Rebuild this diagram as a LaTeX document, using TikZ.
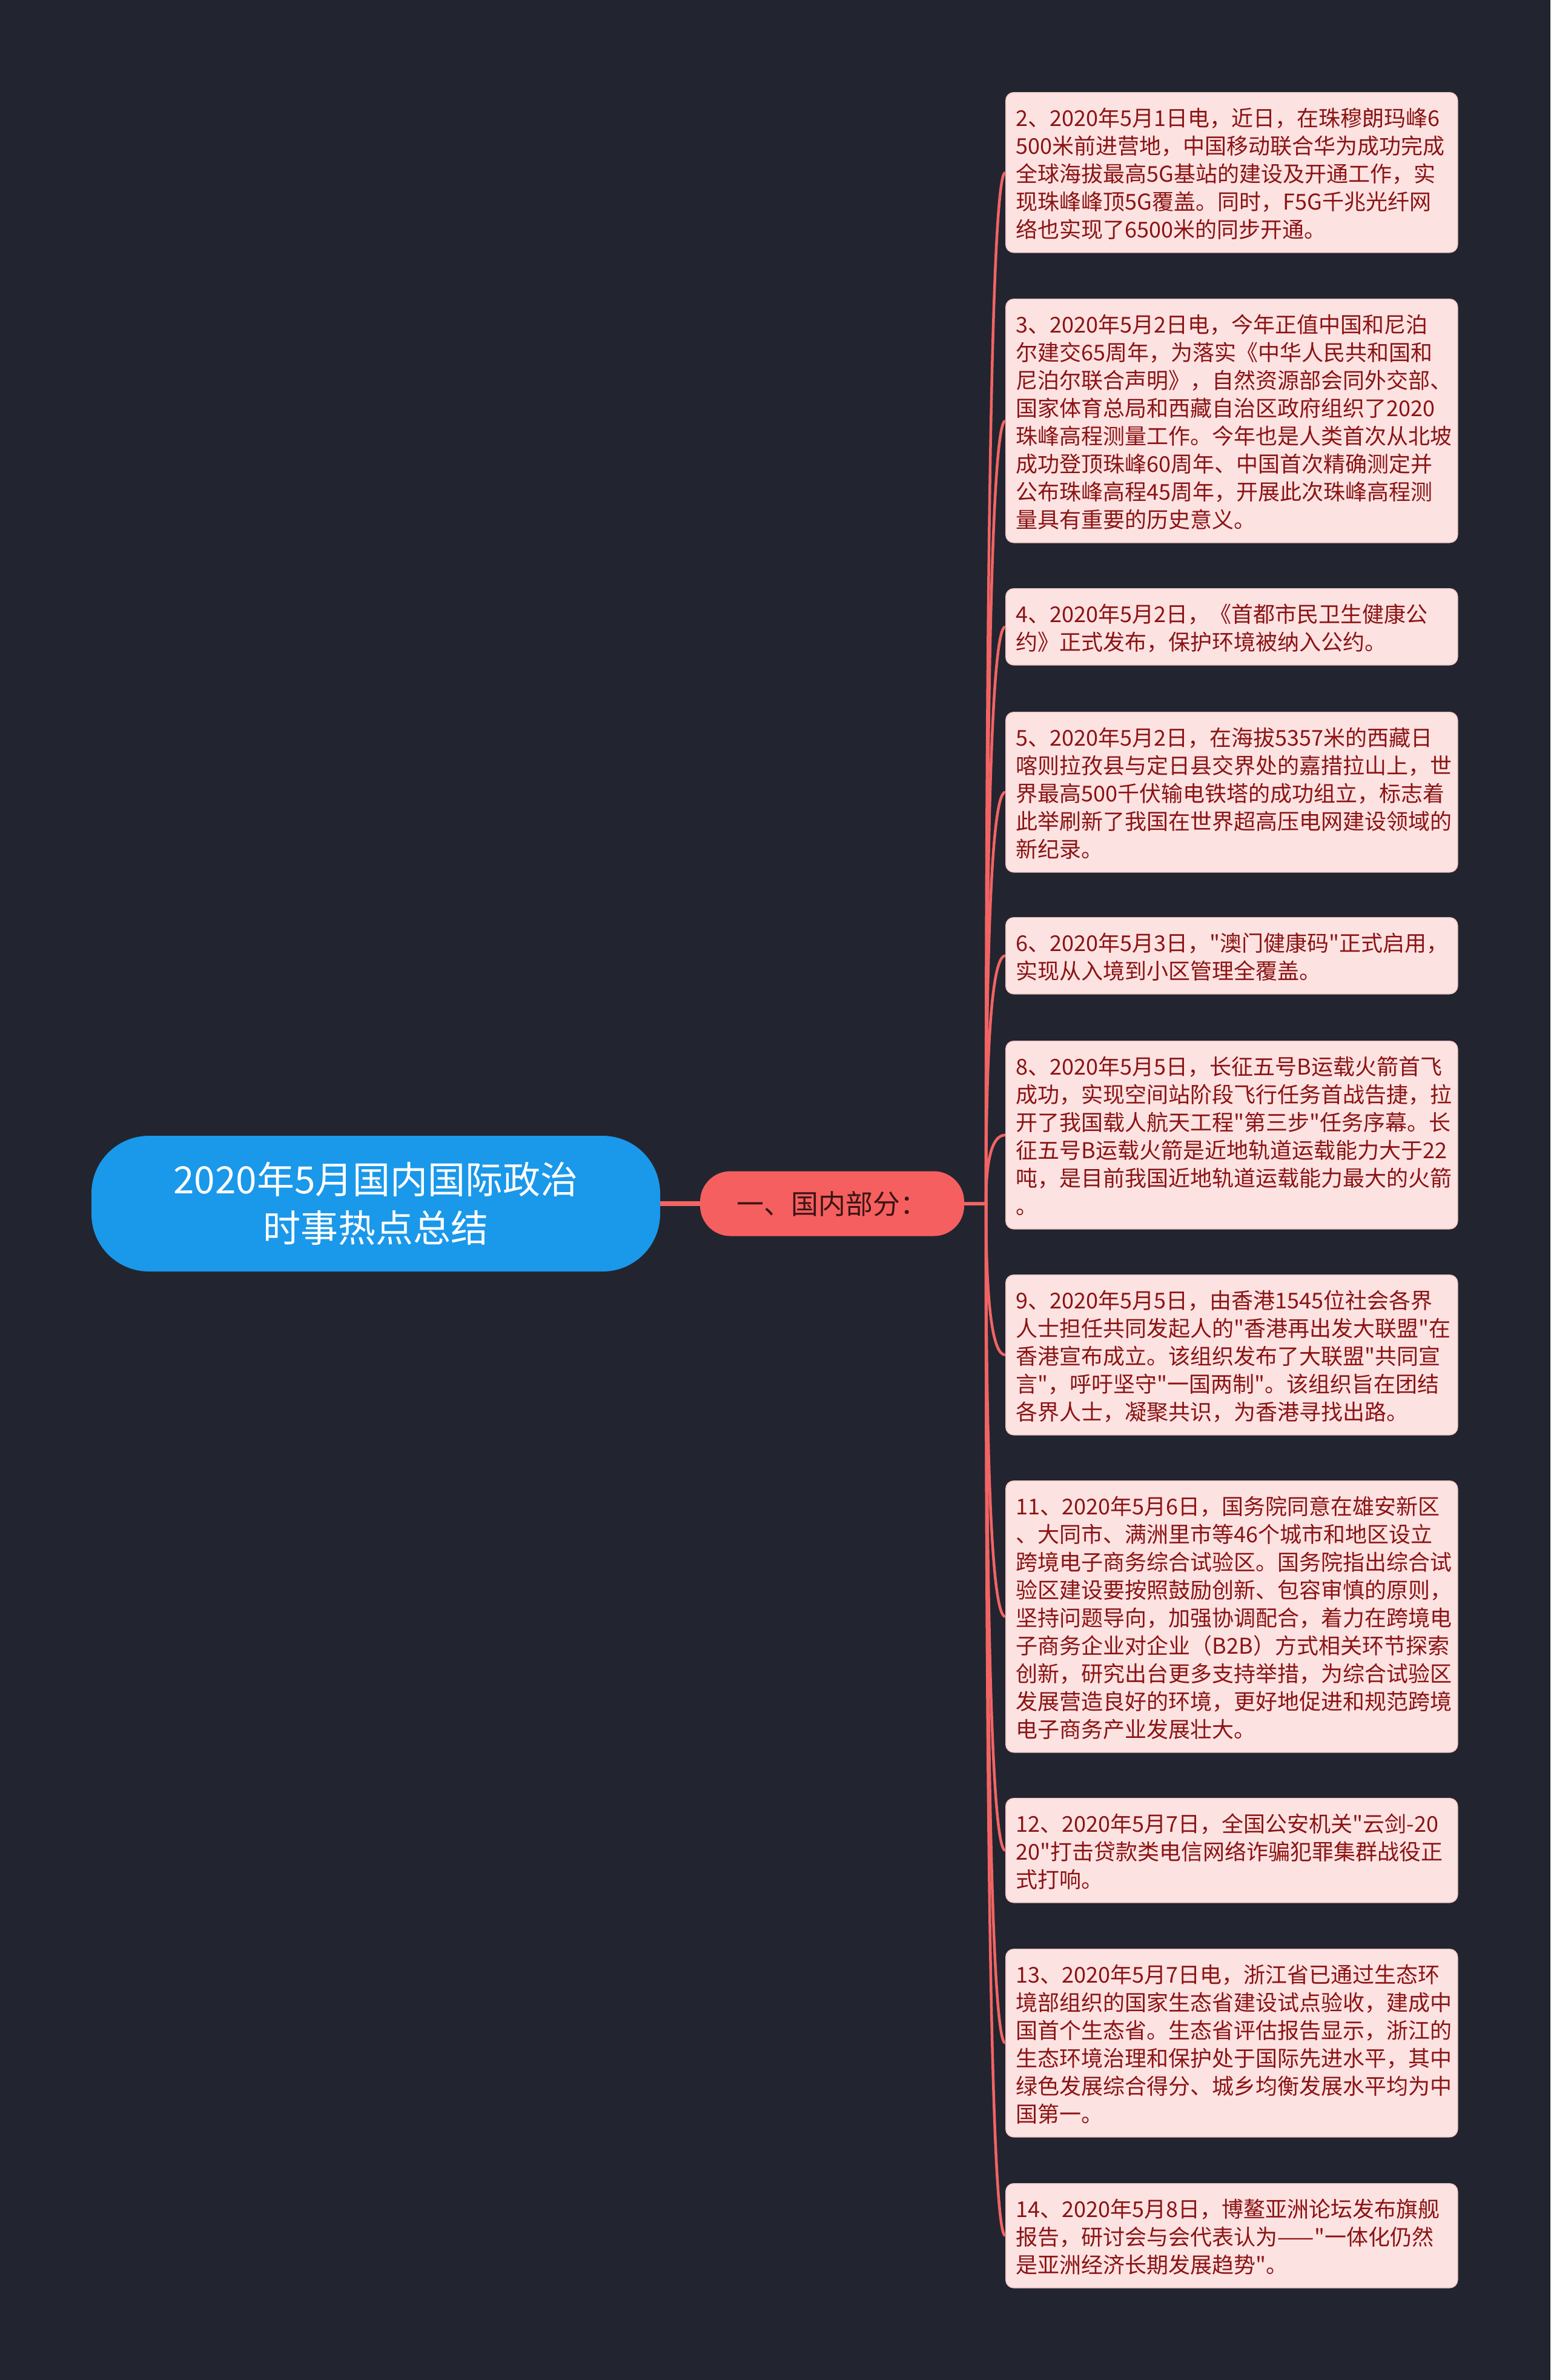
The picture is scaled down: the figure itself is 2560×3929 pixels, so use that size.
\documentclass[tikz,border=0pt]{standalone}
\usepackage{fontspec}
\newfontfamily\cjk{Noto Sans CJK SC}
\usetikzlibrary{calc}
\definecolor{bgc}{HTML}{22252F}
\definecolor{rootfill}{HTML}{1A98EA}
\definecolor{subfill}{HTML}{F65F5F}
\definecolor{subtext}{HTML}{3A1414}
\definecolor{leaffill}{HTML}{FDE2E2}
\definecolor{leafedge}{HTML}{F3CACA}
\definecolor{leaftext}{HTML}{8B1414}
\definecolor{linec}{HTML}{F26464}
\newcommand\Ls{\rule[-7pt]{0pt}{46pt}}
\newcommand\Lb{\\\Ls}
\tikzset{
  rootbox/.style={fill=rootfill, rounded corners=95pt, minimum width=939pt, minimum height=224pt, inner sep=0pt, align=center, text=white, font=\cjk\fontsize{62pt}{80pt}\selectfont},
  subbox/.style={fill=subfill, rounded corners=50pt, minimum width=436pt, minimum height=107pt, inner sep=0pt, text=subtext, font=\cjk\fontsize{45pt}{54pt}\selectfont},
  leafbox/.style={draw=leafedge, line width=1.5pt, fill=leaffill, rounded corners=13pt, text width=712pt, inner xsep=17pt, inner ysep=17pt, align=left, anchor=north west, text=leaftext, font=\cjk\fontsize{36pt}{46pt}\selectfont, execute at begin node=\Ls},
  rootline/.style={draw=linec, line width=8pt},
  leafline/.style={draw=linec, line width=4.5pt},
}
\begin{document}
\begin{tikzpicture}[x=1pt,y=-1pt]
\fill[bgc] (0,0) rectangle (2560,3929);
\useasboundingbox (0,0) rectangle (2560,3929);

\node[rootbox] (root) at (620.5,1987) {2020年5月国内国际政治\\时事热点总结};
\node[subbox] (sub) at (1374,1987) {一、国内部分：};

\node[leafbox] (L1) at (1660,152) {2、2020年5月1日电，近日，在珠穆朗玛峰6\Lb 500米前进营地，中国移动联合华为成功完成\Lb 全球海拔最高5G基站的建设及开通工作，实\Lb 现珠峰峰顶5G覆盖。同时，F5G千兆光纤网\Lb 络也实现了6500米的同步开通。};
\node[leafbox] (L2) at (1660,493) {3、2020年5月2日电，今年正值中国和尼泊\Lb 尔建交65周年，为落实《中华人民共和国和\Lb 尼泊尔联合声明》，自然资源部会同外交部、\Lb 国家体育总局和西藏自治区政府组织了2020\Lb 珠峰高程测量工作。今年也是人类首次从北坡\Lb 成功登顶珠峰60周年、中国首次精确测定并\Lb 公布珠峰高程45周年，开展此次珠峰高程测\Lb 量具有重要的历史意义。};
\node[leafbox] (L3) at (1660,971) {4、2020年5月2日，《首都市民卫生健康公\Lb 约》正式发布，保护环境被纳入公约。};
\node[leafbox] (L4) at (1660,1175) {5、2020年5月2日，在海拔5357米的西藏日\Lb 喀则拉孜县与定日县交界处的嘉措拉山上，世\Lb 界最高500千伏输电铁塔的成功组立，标志着\Lb 此举刷新了我国在世界超高压电网建设领域的\Lb 新纪录。};
\node[leafbox] (L5) at (1660,1514) {6、2020年5月3日，"澳门健康码"正式启用，\Lb 实现从入境到小区管理全覆盖。};
\node[leafbox] (L6) at (1660,1718) {8、2020年5月5日，长征五号B运载火箭首飞\Lb 成功，实现空间站阶段飞行任务首战告捷，拉\Lb 开了我国载人航天工程"第三步"任务序幕。长\Lb 征五号B运载火箭是近地轨道运载能力大于22\Lb 吨，是目前我国近地轨道运载能力最大的火箭\Lb 。};
\node[leafbox] (L7) at (1660,2104) {9、2020年5月5日，由香港1545位社会各界\Lb 人士担任共同发起人的"香港再出发大联盟"在\Lb 香港宣布成立。该组织发布了大联盟"共同宣\Lb 言"，呼吁坚守"一国两制"。该组织旨在团结\Lb 各界人士，凝聚共识，为香港寻找出路。};
\node[leafbox] (L8) at (1660,2444) {11、2020年5月6日，国务院同意在雄安新区\Lb 、大同市、满洲里市等46个城市和地区设立\Lb 跨境电子商务综合试验区。国务院指出综合试\Lb 验区建设要按照鼓励创新、包容审慎的原则，\Lb 坚持问题导向，加强协调配合，着力在跨境电\Lb 子商务企业对企业（B2B）方式相关环节探索\Lb 创新，研究出台更多支持举措，为综合试验区\Lb 发展营造良好的环境，更好地促进和规范跨境\Lb 电子商务产业发展壮大。};
\node[leafbox] (L9) at (1660,2968) {12、2020年5月7日，全国公安机关"云剑-20\Lb 20"打击贷款类电信网络诈骗犯罪集群战役正\Lb 式打响。};
\node[leafbox] (L10) at (1660,3217) {13、2020年5月7日电，浙江省已通过生态环\Lb 境部组织的国家生态省建设试点验收，建成中\Lb 国首个生态省。生态省评估报告显示，浙江的\Lb 生态环境治理和保护处于国际先进水平，其中\Lb 绿色发展综合得分、城乡均衡发展水平均为中\Lb 国第一。};
\node[leafbox] (L11) at (1660,3604) {14、2020年5月8日，博鳌亚洲论坛发布旗舰\Lb 报告，研讨会与会代表认为——"一体化仍然\Lb 是亚洲经济长期发展趋势"。};

\coordinate (trunk) at (1628,1987);
\draw[rootline] (root.east) -- (sub.west);
\foreach \n in {L1,L2,L3,L4,L5,L6,L7,L8,L9,L10,L11}{
  \draw[leafline] (sub.east) -- (trunk)
    .. controls ($(trunk)!0.667!(trunk |- \n.west)$) and ($(\n.west)!0.667!(trunk |- \n.west)$) .. (\n.west);
}
\end{tikzpicture}
\end{document}
